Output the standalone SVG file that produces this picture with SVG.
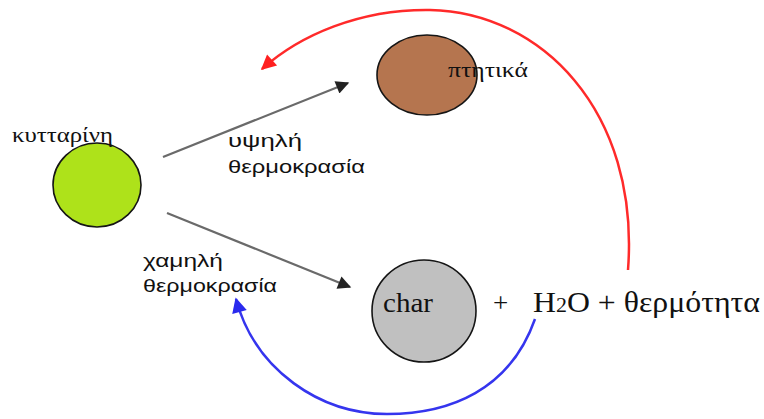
<svg xmlns="http://www.w3.org/2000/svg" width="764" height="419" viewBox="0 0 764 419">
<style>
.serif{font-family:"Liberation Serif","Times New Roman",serif;fill:#111}
.sans{font-family:"Liberation Sans",Arial,sans-serif;fill:#111}
.node{stroke:#151515;stroke-width:1.6}
.flow{fill:none;stroke:#6a6a6a;stroke-width:2.2}
</style>
<defs>
<marker id="gray" viewBox="0 0 10 10" refX="9" refY="5" markerWidth="7" markerHeight="6" orient="auto">
<path d="M0,0 L10,5 L0,10 z" fill="#222"/>
</marker>
<marker id="red" viewBox="0 0 10 10" refX="9" refY="5" markerWidth="7" markerHeight="6" orient="auto">
<path d="M0,0 L10,5 L0,10 z" fill="#ff2020"/>
</marker>
<marker id="blue" viewBox="0 0 10 10" refX="9" refY="5" markerWidth="7" markerHeight="6" orient="auto">
<path d="M0,0 L10,5 L0,10 z" fill="#2a2aee"/>
</marker>
</defs>
<rect width="764" height="419" fill="#fff"/>
<g id="connectors">
<path class="flow" d="M163,157 L348,83" marker-end="url(#gray)"/>
<path class="flow" d="M167,213 L350,287" marker-end="url(#gray)"/>
<path d="M628,270 C640,110 540,12 430,10 C360,9 300,35 262,69" fill="none" stroke="#ff2a2a" stroke-width="2.5" marker-end="url(#red)"/>
<path d="M535,319 C510,390 450,414 387,414 C320,414 255,370 236,299" fill="none" stroke="#3535ee" stroke-width="2.5" marker-end="url(#blue)"/>
</g>
<g id="cellulose">
<ellipse class="node" cx="97" cy="185" rx="44" ry="42" fill="#aee21a"/>
<text class="serif" x="12" y="142" font-size="21" textLength="101" lengthAdjust="spacingAndGlyphs">κυτταρίνη</text>
</g>
<g id="volatiles">
<ellipse class="node" cx="427" cy="75" rx="50" ry="40" fill="#b5754f"/>
<text class="serif" x="448" y="77" font-size="21" textLength="80" lengthAdjust="spacingAndGlyphs">πτητικά</text>
</g>
<g id="char">
<ellipse class="node" cx="424" cy="311" rx="52" ry="51" fill="#c0c0c0"/>
<text class="serif" x="383" y="312" font-size="27" textLength="50" lengthAdjust="spacingAndGlyphs">char</text>
</g>
<g id="products">
<text class="serif" x="493" y="312" font-size="27">+</text>
<text class="serif" x="533" y="312" font-size="29" textLength="227" lengthAdjust="spacingAndGlyphs">H<tspan font-size="20">2</tspan>O + θερμότητα</text>
</g>
<g id="labels">
<text class="sans" x="228" y="147" font-size="19" textLength="74" lengthAdjust="spacingAndGlyphs">υψηλή</text>
<text class="sans" x="228" y="173" font-size="19" textLength="137" lengthAdjust="spacingAndGlyphs">θερμοκρασία</text>
<text class="sans" x="143" y="267" font-size="19" textLength="80" lengthAdjust="spacingAndGlyphs">χαμηλή</text>
<text class="sans" x="143" y="292" font-size="19" textLength="134" lengthAdjust="spacingAndGlyphs">θερμοκρασία</text>
</g>
</svg>
